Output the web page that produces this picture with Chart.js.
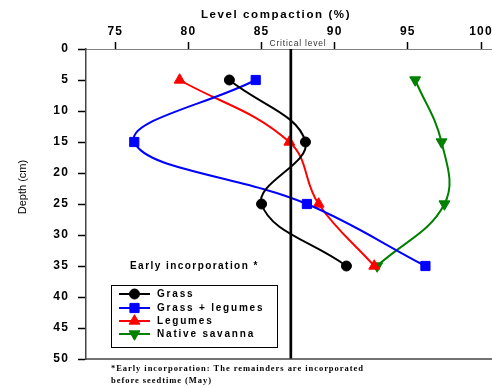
<!DOCTYPE html>
<html><head><meta charset="utf-8">
<script src="https://cdn.jsdelivr.net/npm/chart.js@4"></script>
<style>html,body{margin:0;padding:0;background:#fff}canvas{display:block}</style>
</head><body>
<canvas id="c" width="492" height="388"></canvas>
<script>
const depths = [5, 15, 25, 35];
const grass = [82.8, 88.0, 85.0, 90.8];
const grassLegumes = [84.6, 76.3, 88.1, 96.2];
const legumes = [79.4, 86.9, 88.9, 92.7];
const nativeSavanna = [95.5, 97.3, 97.5, 92.9];
const seriesNames = ['Grass', 'Grass + legumes', 'Legumes', 'Native savanna'];
const xTicks = [75, 80, 85, 90, 95, 100];
const yTicks = [0, 5, 10, 15, 20, 25, 30, 35, 40, 45, 50];
const criticalLevel = 87;
const criticalDepths = [0, 50];

const SANS = '"Liberation Sans", Arial, sans-serif';
const SERIF = '"Liberation Serif", "Times New Roman", serif';

const toPoints = vals => vals.map((v, i) => ({x: v, y: depths[i]}));

const styles = [
  {color: '#000000', style: 'circle', r: 5, rot: 0},
  {color: '#0000ff', style: 'rect', r: 6.5, rot: 0},
  {color: '#ff0000', style: 'triangle', r: 6.3, rot: 0},
  {color: '#008000', style: 'triangle', r: 6.3, rot: 180}
];
const seriesData = [grass, grassLegumes, legumes, nativeSavanna];

const datasets = seriesData.map((vals, i) => ({
  label: seriesNames[i],
  data: toPoints(vals),
  showLine: true,
  tension: 0.4,
  borderColor: styles[i].color,
  backgroundColor: styles[i].color,
  borderWidth: 2,
  pointStyle: styles[i].style,
  pointRadius: styles[i].r,
  pointRotation: styles[i].rot,
  pointBorderWidth: 1,
  order: 1
}));
datasets.push({
  label: 'Critical level',
  data: criticalDepths.map(d => ({x: criticalLevel, y: d})),
  showLine: true,
  tension: 0,
  borderColor: '#000',
  borderWidth: 2.7,
  pointRadius: 0,
  order: 0
});

function marker(ctx, style, x, y, r, rot, color) {
  ctx.save();
  ctx.fillStyle = color; ctx.strokeStyle = color; ctx.lineWidth = 1;
  ctx.translate(x, y);
  ctx.rotate(rot * Math.PI / 180);
  ctx.beginPath();
  if (style === 'circle') {
    ctx.arc(0, 0, r, 0, Math.PI * 2);
  } else if (style === 'rect') {
    const s = Math.SQRT1_2 * r;
    ctx.rect(-s, -s, 2 * s, 2 * s);
  } else {
    const w = r * Math.sqrt(3) / 2;
    ctx.moveTo(0, -r);
    ctx.lineTo(w, r / 2);
    ctx.lineTo(-w, r / 2);
    ctx.closePath();
  }
  ctx.fill(); ctx.stroke();
  ctx.restore();
}

function text(ctx, str, x, y, font, spacing, align, color) {
  ctx.save();
  ctx.font = font;
  ctx.letterSpacing = spacing + 'px';
  ctx.textAlign = align || 'left';
  ctx.textBaseline = 'middle';
  ctx.fillStyle = color || '#000';
  ctx.fillText(str, x, y);
  ctx.restore();
}

const decor = {
  id: 'decor',
  beforeDraw(chart) {
    chart.ctx.letterSpacing = '1.2px';
  },
  afterDraw(chart) {
    const ctx = chart.ctx;
    const a = chart.chartArea;
    ctx.save();
    ctx.letterSpacing = '0px';
    ctx.strokeStyle = '#444'; ctx.lineWidth = 1.5;
    ctx.beginPath(); ctx.moveTo(a.left, a.bottom); ctx.lineTo(a.right, a.bottom); ctx.stroke();
    ctx.restore();

    text(ctx, 'Level compaction (%)', 276, 15, 'bold 11.5px ' + SANS, 1.6, 'center');
    text(ctx, 'Critical level', 298, 44, '8.5px ' + SANS, 0.8, 'center', '#333');

    ctx.save();
    ctx.translate(23, 187);
    ctx.rotate(-Math.PI / 2);
    text(ctx, 'Depth (cm)', 0, 0, '11px ' + SANS, 0, 'center');
    ctx.restore();

    text(ctx, 'Early incorporation *', 130, 266, 'bold 10px ' + SANS, 1.45, 'left');

    ctx.save();
    ctx.strokeStyle = '#000'; ctx.lineWidth = 1;
    ctx.strokeRect(111.5, 285.5, 166, 62);
    ctx.restore();
    const rows = [294, 308, 321, 334];
    seriesNames.forEach((name, i) => {
      const y = rows[i];
      ctx.save();
      ctx.strokeStyle = styles[i].color; ctx.lineWidth = 2;
      ctx.beginPath(); ctx.moveTo(119, y); ctx.lineTo(150, y); ctx.stroke();
      ctx.restore();
      marker(ctx, styles[i].style, 134.5, y, styles[i].r, styles[i].rot, styles[i].color);
      text(ctx, name, 157, y, 'bold 10px ' + SANS, 1.8, 'left');
    });

    text(ctx, '*Early incorporation: The remainders are incorporated', 111, 369, 'bold 8.5px ' + SERIF, 0.95, 'left');
    text(ctx, 'before seedtime (May)', 111, 381, 'bold 8.5px ' + SERIF, 0.95, 'left');
  }
};

new Chart(document.getElementById('c'), {
  type: 'scatter',
  data: {datasets},
  options: {
    responsive: false,
    animation: false,
    devicePixelRatio: 1,
    layout: {autoPadding: false, padding: {top: 0, left: 0, right: 0, bottom: 29}},
    plugins: {legend: {display: false}, tooltip: {enabled: false}},
    scales: {
      x: {
        type: 'linear', position: 'top', min: 73, max: 100.75,
        afterBuildTicks: s => { s.ticks = xTicks.map(v => ({value: v})); },
        afterFit: s => { s.height = 49; s.paddingLeft = 0; s.paddingRight = 0; },
        ticks: {font: {family: SANS, size: 12, weight: 'bold'}, color: '#000', padding: 3, autoSkip: false, maxRotation: 0},
        grid: {drawOnChartArea: false, drawTicks: true, tickLength: 7, tickColor: '#000', tickWidth: 1.5},
        border: {display: true, color: '#808080', width: 1}
      },
      y: {
        type: 'linear', reverse: true, min: 0, max: 50,
        afterBuildTicks: s => { s.ticks = yTicks.map(v => ({value: v})); },
        afterFit: s => { s.width = 86; s.paddingTop = 0; s.paddingBottom = 0; },
        ticks: {font: {family: SANS, size: 12, weight: 'bold'}, color: '#000', padding: 9, autoSkip: false},
        grid: {drawOnChartArea: false, drawTicks: true, tickLength: 8, tickColor: '#000', tickWidth: 1.5},
        border: {display: true, color: '#444', width: 1.5}
      }
    }
  },
  plugins: [decor]
});
</script>
</body></html>
